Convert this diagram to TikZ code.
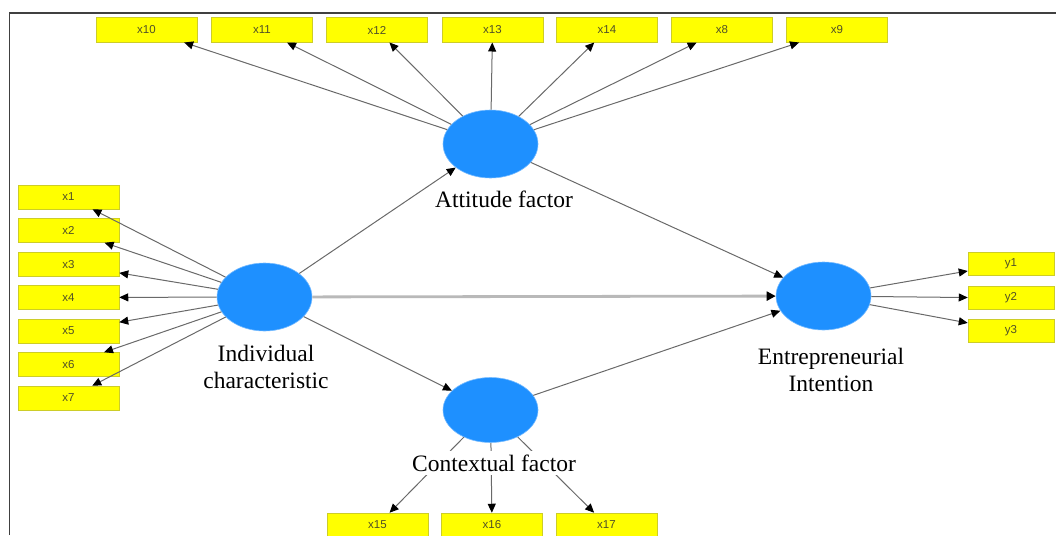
\documentclass[tikz,border=0pt]{standalone}
\usepackage{fontspec}
\setmainfont{Liberation Serif}
\newfontfamily\boxfont{Liberation Sans}
\usetikzlibrary{arrows.meta,shapes.geometric}
\definecolor{lvblue}{RGB}{30,144,255}
\definecolor{mvyellow}{RGB}{255,255,0}
\definecolor{mvedge}{RGB}{205,205,40}
\definecolor{linegray}{RGB}{105,105,105}
\definecolor{thickgray}{RGB}{185,185,185}
\definecolor{boxtext}{RGB}{80,80,40}
\tikzset{
  latent/.style={ellipse, fill=lvblue, draw=lvblue!60, line width=0.6pt, minimum width=95pt, minimum height=68pt, inner sep=0pt},
  mvbox/.style={rectangle, fill=mvyellow, draw=mvedge, line width=0.5pt, minimum width=101pt, minimum height=24pt, inner sep=0pt, font=\boxfont\fontsize{11.5}{13}\selectfont, text=boxtext},
  mvboxy/.style={mvbox, minimum width=86pt, minimum height=23pt},
  lbl/.style={fill=white, inner sep=4pt, align=center, font=\fontsize{23.5}{27.5}\selectfont},
  conn/.style={draw=linegray, line width=1pt, -{Triangle[length=9pt,width=8pt,color=black]}},
  thickconn/.style={draw=thickgray, line width=2.8pt, -{Triangle[length=9pt,width=9pt,color=black]}},
  framel/.style={draw=black!75, line width=1.2pt}
}
\begin{document}
\begin{tikzpicture}[x=1pt,y=-1pt]
\useasboundingbox (0,0) rectangle (1056,535);
\clip (0,0) rectangle (1056,535);
% frame
\coordinate (fr1) at (9.5,535);
\coordinate (fr2) at (9.5,13);
\coordinate (fr3) at (1056,13);
\draw[framel] (fr1) -- (fr2) -- (fr3);

% latent variables
\node[latent] (att) at (490.5,144) {};
\node[latent] (ind) at (264.5,297) {};
\node[latent] (ei)  at (823.5,296) {};
\node[latent, minimum height=65pt] (ctx) at (490.5,410) {};

% top indicators
\node[mvbox, minimum height=24.5pt] (x10) at (146.5,30) {x10};
\node[mvbox, minimum height=24.5pt] (x11) at (262,30) {x11};
\node[mvbox, minimum height=24.5pt] (x12) at (377,30) {x12};
\node[mvbox, minimum height=24.5pt] (x13) at (492.5,30) {x13};
\node[mvbox, minimum height=24.5pt] (x14) at (607,30) {x14};
\node[mvbox, minimum height=24.5pt] (x8)  at (722,30) {x8};
\node[mvbox, minimum height=24.5pt] (x9)  at (837,30) {x9};

% left indicators
\node[mvbox] (x1) at (68.5,197) {x1};
\node[mvbox] (x2) at (68.5,230.5) {x2};
\node[mvbox] (x3) at (68.5,264.5) {x3};
\node[mvbox] (x4) at (68.5,297.5) {x4};
\node[mvbox] (x5) at (68.5,331) {x5};
\node[mvbox] (x6) at (68.5,364.5) {x6};
\node[mvbox] (x7) at (68.5,398) {x7};

% right indicators
\node[mvboxy] (y1) at (1011,263.5) {y1};
\node[mvboxy] (y2) at (1011,298) {y2};
\node[mvboxy] (y3) at (1011,331) {y3};

% bottom indicators
\node[mvbox] (x15) at (377.5,525) {x15};
\node[mvbox] (x16) at (492,525) {x16};
\node[mvbox] (x17) at (606.5,525) {x17};

% outer model arrows
\foreach \t in {x10,x11,x12,x13,x14,x8,x9} \draw[conn] (att) -- (\t);
\foreach \t in {x1,x2,x3,x4,x5,x6,x7} \draw[conn] (ind) -- (\t);
\foreach \t in {y1,y2,y3} \draw[conn] (ei) -- (\t);
\foreach \t in {x15,x16,x17} \draw[conn] (ctx) -- (\t);

% inner model arrows
\draw[conn] (ind) -- (att);
\draw[conn] (ind) -- (ctx);
\draw[conn] (att) -- (ei);
\draw[conn] (ctx) -- (ei);
\draw[thickconn] (ind) -- (ei);

% labels
\node[lbl] (latt) at (504,199) {Attitude factor};
\node[lbl] (lind) at (266,367) {Individual\\characteristic};
\node[lbl] (lei)  at (831,370) {Entrepreneurial\\Intention};
\node[lbl] (lctx) at (494,463) {Contextual factor};
\end{tikzpicture}
\end{document}
